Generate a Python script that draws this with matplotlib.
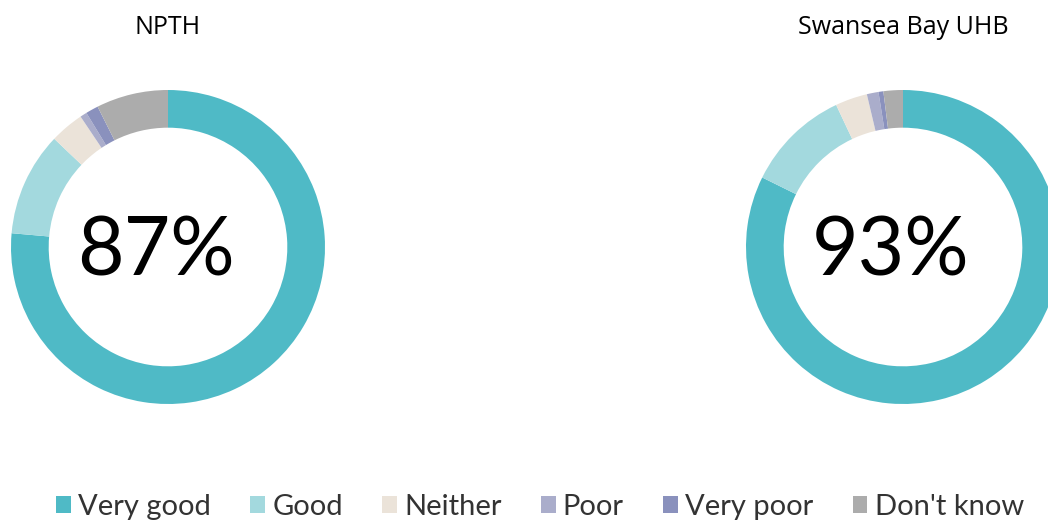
import matplotlib
matplotlib.use("Agg")
import matplotlib.pyplot as plt
from matplotlib.patches import Patch

labels = ["Very good", "Good", "Neither", "Poor", "Very poor", "Don't know"]
colours = ["#4fbac6", "#a3d9de", "#ebe3d9", "#aaadcb", "#8a91bd", "#acacac"]

npth = [76.4, 10.7, 3.5, 0.7, 1.3, 7.4]
swansea = [82.3, 10.7, 3.3, 1.2, 0.5, 2.0]
titles = ["NPTH", "Swansea Bay UHB"]
centre_text = ["87%", "93%"]

W, H = 1048, 525
fig = plt.figure(figsize=(W / 100, H / 100), dpi=100)
fig.patch.set_facecolor("white")

centres = [(168, 247), (903, 247)]
r = 157

for (cx, cy), vals, title, txt in zip(centres, [npth, swansea], titles, centre_text):
    ax = fig.add_axes([(cx - r) / W, (H - cy - r) / H, 2 * r / W, 2 * r / H])
    ax.pie(vals, colors=colours, startangle=90, counterclock=False, radius=1,
           wedgeprops=dict(width=0.24, edgecolor="none"))
    ax.set_xlim(-1, 1)
    ax.set_ylim(-1, 1)
    ax.set_aspect("equal")
    ax.axis("off")
    # the centre label sits a little left of and below the ring centre
    ax.text(-12 / r, -5 / r, txt, ha="center", va="center", fontsize=58,
            family="Lato", color="black")
    fig.text(cx / W, 1 - 28 / H, title, ha="center", va="center", fontsize=18,
             family="Open Sans", color="black")

handles = [Patch(facecolor=c, edgecolor="none") for c in colours]
fig.legend(handles, labels, loc="center", bbox_to_anchor=(540 / W, 1 - 507 / H), ncol=6,
           frameon=False, handlelength=0.5, handleheight=0.5, handletextpad=0.25,
           columnspacing=1.35, prop=dict(family="Lato", size=21), labelcolor="#333333")

fig.savefig("out.png", dpi=100)
